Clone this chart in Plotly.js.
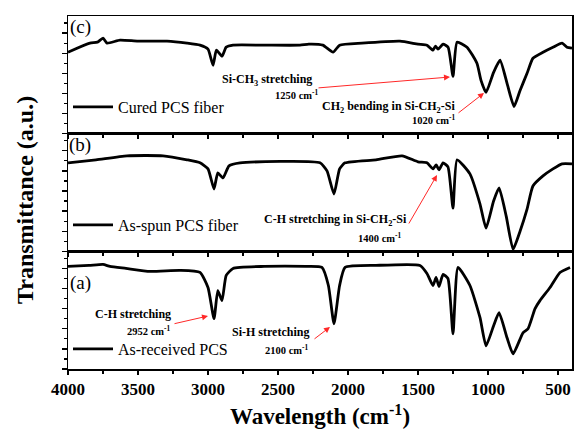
<!DOCTYPE html>
<html><head><meta charset="utf-8">
<script src="https://cdn.plot.ly/plotly-3.0.1.min.js"></script>
<style>html,body{margin:0;padding:0;background:#fff}</style>
</head><body><div id="chart" style="width:574px;height:434px"></div>
<script>
// wavenumber (cm^-1) and transmittance (a.u.) for each sample
const wnC = [4000,3843,3790,3750,3721,3629,3500,3293,3150,3057,3000,2964,2940,2900,2870,2821,2600,2343,2280,2180,2107,2060,1900,1629,1500,1436,1393,1375,1357,1321,1285,1250,1221,1150,1079,1050,1014,960,914,860,814,771,721,679,607,536,471,436,400];
const trC = [81,90,91,95,90,93,92,92,90,88,84,68,83,77,86,88,88,88,89,88,81,88,90,92,89,88,83,87,84,89,86,57,91,86,70,53,41,61,73,48,27,43,60,75,81,86,90,86,85];

const wnB = [4000,3800,3579,3321,3150,3057,3000,2957,2930,2893,2850,2771,2200,2150,2100,2060,2021,1800,1614,1500,1436,1393,1370,1350,1321,1286,1250,1221,1129,1057,1014,960,921,870,821,771,721,679,607,536,471,400];
const trB = [88,91,95,95,91,88,82,62,78,73,85,88,88,80,57,82,88,91,95,89,88,82,86,81,88,84,43,91,77,47,23,50,63,35,2,20,42,65,75,82,87,87];

const wnA = [4000,3850,3750,3700,3586,3414,3200,3057,3000,2957,2930,2900,2870,2821,2600,2300,2186,2140,2100,2060,2021,1800,1486,1436,1393,1371,1350,1321,1286,1250,1214,1129,1057,1014,960,921,864,821,750,714,664,629,557,486,414];
const trA = [102,103,104,102,100,97,98,96,81,50,78,68,93,100,102,102,101,83,45,83,101,103,103,95,83,91,82,94,90,35,101,83,51,23,43,56,31,15,36,40,60,68,81,96,101];

const names = ['As-received PCS','As-spun PCS fiber','Cured PCS fiber'];
const panelLabels = ['(a)','(b)','(c)'];

const serif = 'Liberation Serif';
const lineStyle = {color:'#000', width:2.8, shape:'spline', smoothing:0.5};

const traces = [
  {x:wnA, y:trA, xaxis:'x', yaxis:'y', name:names[0], legend:'legend', mode:'lines', line:lineStyle},
  {x:wnB, y:trB, xaxis:'x2', yaxis:'y2', name:names[1], legend:'legend2', mode:'lines', line:lineStyle},
  {x:wnC, y:trC, xaxis:'x3', yaxis:'y3', name:names[2], legend:'legend3', mode:'lines', line:lineStyle}
];

function xa(anchor, labels){
  return {anchor:anchor, range:[4000,400], showline:true, mirror:true, linecolor:'#000', linewidth:1.5,
    ticks:'outside', ticklen:4, tickwidth:1.5, tickcolor:'#000', dtick:500, tick0:0,
    minor:{dtick:250, ticks:'outside', ticklen:3, tickwidth:1.2, tickcolor:'#000'},
    showgrid:false, zeroline:false, showticklabels:labels,
    tickfont:{family:serif, size:17, color:'#000', weight:'bold'}};
}
function ya(anchor, dom){
  return {anchor:anchor, domain:dom, range:[0,117], showline:true, mirror:true, linecolor:'#000', linewidth:1.5,
    ticks:'outside', ticklen:5, tickwidth:1.3, tickcolor:'#000', dtick:20, tick0:0,
    minor:{dtick:10, ticks:'outside', ticklen:3, tickwidth:1.2, tickcolor:'#000'},
    showgrid:false, zeroline:false, showticklabels:false};
}
function lg(y){
  return {x:0.0, xanchor:'left', y:y, yanchor:'middle', bgcolor:'rgba(0,0,0,0)', borderwidth:0,
    font:{family:serif, size:16, color:'#000'}, itemwidth:40, tracegroupgap:0};
}
const X = px => (px-68)/504, Y = py => (369-py)/353;
const red = 'rgb(255,40,40)';
function txt(t, px, py, size, bold){
  return {text:t, x:X(px), y:Y(py), xref:'paper', yref:'paper', showarrow:false,
    xanchor:'center', yanchor:'middle', font:{family:serif, size:size, color:'#000', weight: bold ? 'bold' : 'normal'}};
}
function arr(hx, hy, tx, ty){
  return {text:'', x:X(hx), y:Y(hy), xref:'paper', yref:'paper', showarrow:true, ax:tx-hx, ay:ty-hy,
    arrowhead:2, arrowsize:1.2, arrowwidth:1, arrowcolor:red, standoff:0, startstandoff:0};
}

const annotations = [
  txt(panelLabels[2], 80, 27, 19, false),
  txt(panelLabels[1], 80, 145, 19, false),
  txt(panelLabels[0], 80, 283, 19, false),
  txt('Si-CH<sub>3</sub> stretching', 267, 80, 12, true),
  txt('1250 cm<sup>-1</sup>', 296, 94, 10.5, true),
  txt('CH<sub>2</sub> bending in Si-CH<sub>2</sub>-Si', 388, 107, 12, true),
  txt('1020 cm<sup>-1</sup>', 433, 119, 10.5, true),
  txt('C-H stretching in Si-CH<sub>2</sub>-Si', 335, 220, 12, true),
  txt('1400 cm<sup>-1</sup>', 379, 237, 10.5, true),
  txt('C-H stretching', 133, 314, 12, true),
  txt('2952 cm<sup>-1</sup>', 148, 330, 10.5, true),
  txt('Si-H stretching', 270, 332, 12, true),
  txt('2100 cm<sup>-1</sup>', 286, 349, 10.5, true),
  arr(450, 77, 317, 88),
  arr(484, 93, 457, 114),
  arr(437, 175, 408, 225),
  arr(208, 316, 173, 324),
  arr(330, 327, 313, 340),
  {text:'Transmittance (a.u.)', x:X(25), y:Y(200), xref:'paper', yref:'paper', showarrow:false,
    textangle:-90, xanchor:'center', yanchor:'middle', font:{family:serif, size:24, color:'#000', weight:'bold'}}
];

const layout = {
  width:574, height:434, margin:{l:68, r:2, t:16, b:65},
  paper_bgcolor:'#fff', plot_bgcolor:'#fff', showlegend:true,
  xaxis: Object.assign(xa('y', true), {title:{text:'Wavelength (cm<sup>-1</sup>)', font:{family:serif, size:23, color:'#000', weight:'bold'}, standoff:10}}),
  xaxis2: xa('y2', false),
  xaxis3: xa('y3', false),
  yaxis: ya('x', [0, 1/3]),
  yaxis2: ya('x2', [1/3, 2/3]),
  yaxis3: ya('x3', [2/3, 1]),
  legend: lg(Y(349)), legend2: lg(Y(225)), legend3: lg(Y(107)),
  annotations: annotations
};

Plotly.newPlot('chart', traces, layout, {staticPlot:true, displayModeBar:false});
</script></body></html>
